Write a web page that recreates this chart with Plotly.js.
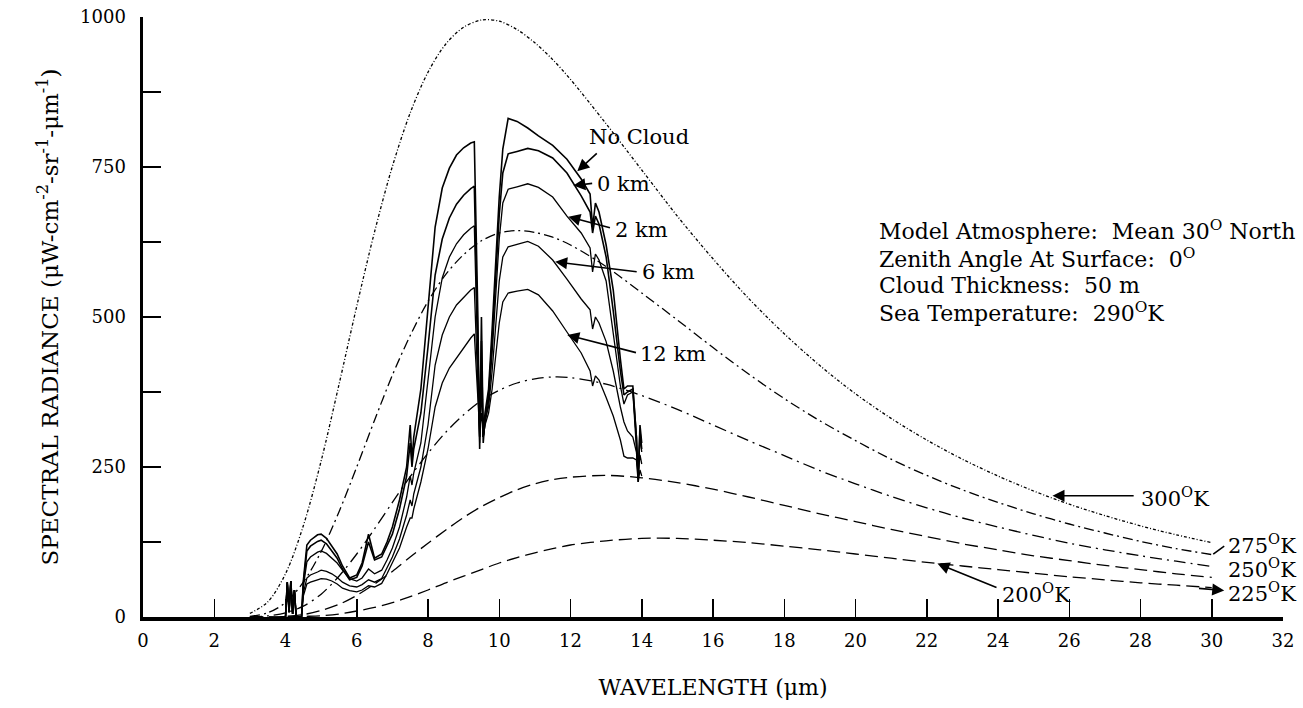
<!DOCTYPE html>
<html>
<head>
<meta charset="utf-8">
<script src="https://cdn.plot.ly/plotly-3.0.1.min.js"></script>
<style>html,body{margin:0;padding:0;background:#fff;}#chart{width:1303px;height:708px;}</style>
</head>
<body>
<div id="chart"></div>
<script>
// Blackbody reference curves (wavelength in µm)
const bx = [3, 3.5, 4, 4.5, 5, 5.5, 6, 6.5, 7, 7.5, 8, 8.5, 9, 9.5, 10, 10.5, 11, 11.5, 12, 13, 14, 15, 16, 17, 18, 19, 20, 21, 22, 23, 24, 25, 26, 27, 28, 29, 30];
const bb300 = [6, 25, 72, 152, 260, 387, 518, 642, 751, 840, 908, 955, 983, 995, 993, 979, 957, 929, 896, 822, 745, 668, 597, 531, 472, 419, 372, 331, 295, 263, 235, 210, 188, 169, 152, 137, 124];
const bb275 = [1, 7, 24, 58, 109, 175, 250, 328, 403, 469, 526, 571, 604, 627, 640, 644, 641, 633, 620, 584, 540, 495, 449, 405, 364, 327, 294, 263, 236, 212, 191, 172, 155, 140, 126, 114, 104];
const bb250 = [0, 2, 7, 18, 38, 68, 105, 147, 191, 234, 273, 308, 337, 361, 378, 390, 397, 400, 399, 388, 369, 346, 320, 294, 269, 244, 222, 201, 182, 165, 150, 136, 123, 112, 102, 93, 84];
const bb225 = [0, 0, 1, 4, 11, 21, 36, 55, 76, 100, 123, 145, 166, 184, 199, 212, 222, 229, 233, 236, 232, 224, 213, 200, 186, 172, 159, 146, 134, 122, 112, 102, 94, 86, 79, 72, 66];
const bb200 = [0, 0, 0, 1, 2, 5, 10, 16, 24, 34, 45, 57, 68, 79, 90, 99, 107, 114, 120, 127, 131, 131, 128, 124, 118, 112, 105, 98, 91, 85, 79, 73, 67, 62, 57, 53, 49];

// Computed radiance curves (wavelength in µm)
const mx = [3.9, 4.0, 4.05, 4.1, 4.15, 4.2, 4.25, 4.3, 4.45,
  4.5, 4.6, 4.7, 4.9, 5.0, 5.15, 5.3, 5.45, 5.6, 5.8,
  6.0, 6.15, 6.33, 6.5, 6.7, 6.85, 7.0, 7.2, 7.4, 7.5,
  7.55, 7.6, 7.8, 8.0, 8.2, 8.4, 8.6, 8.8, 9.0, 9.2,
  9.3, 9.4, 9.45, 9.5, 9.55, 9.6, 9.7, 9.8, 10.0, 10.1,
  10.25, 10.5, 10.8, 11.1, 11.5, 11.9, 12.3, 12.55, 12.62, 12.7,
  12.8, 13.0, 13.2, 13.4, 13.5, 13.6, 13.75, 13.85, 13.9, 13.95,
  14.0];
const noCloud = [0, 0, 58, 8, 60, 5, 45, 0, 0,
  60, 120, 128, 137, 138, 131, 118, 105, 85, 65,
  70, 90, 138, 98, 105, 125, 150, 195, 250, 320,
  260, 300, 380, 520, 650, 715, 748, 770, 782, 790,
  792, 500, 280, 500, 300, 340, 380, 480, 700, 780,
  831, 826, 815, 802, 786, 763, 730, 705, 650, 690,
  675, 620, 545, 430, 380, 385, 385, 300, 225, 320,
  290];
const km0 = [0, 0, 58, 8, 60, 5, 45, 0, 0,
  55, 110, 118, 126, 128, 122, 110, 98, 80, 62,
  66, 85, 125, 95, 100, 118, 138, 180, 235, 290,
  250, 280, 340, 450, 570, 630, 665, 688, 703, 714,
  718, 450, 300, 460, 290, 330, 370, 460, 670, 740,
  772, 776, 781, 777, 765, 740, 702, 675, 640, 668,
  655, 600, 510, 410, 370, 375, 380, 300, 230, 310,
  280];
const km2 = [0, 0, 58, 8, 60, 5, 45, 0, 0,
  50, 92, 100, 108, 110, 106, 98, 90, 78, 64,
  60, 65, 80, 72, 78, 95, 115, 150, 200, 235,
  220, 240, 290, 400, 500, 565, 600, 622, 637, 648,
  652, 420, 290, 420, 300, 320, 360, 440, 630, 690,
  713, 717, 722, 716, 700, 668, 640, 615, 575, 605,
  595, 560, 475, 385, 355, 370, 375, 290, 235, 300,
  275];
const km6 = [0, 0, 58, 8, 60, 5, 45, 0, 0,
  40, 65, 70, 75, 78, 76, 72, 66, 58, 52,
  50, 54, 62, 58, 64, 82, 100, 130, 170, 195,
  185, 205, 250, 320, 420, 470, 500, 520, 533, 545,
  549, 380, 300, 380, 300, 330, 350, 410, 560, 600,
  617, 621, 626, 618, 595, 563, 530, 512, 480, 500,
  490, 459, 410, 350, 325, 310, 300, 275, 240, 270,
  255];
const km12 = [0, 0, 58, 8, 60, 5, 45, 0, 0,
  35, 55, 58, 62, 64, 63, 60, 55, 48, 44,
  42, 45, 52, 50, 56, 72, 90, 115, 150, 165,
  165, 180, 225, 280, 350, 390, 415, 432, 448, 465,
  472, 350, 310, 340, 300, 320, 340, 380, 490, 525,
  540, 543, 546, 537, 510, 475, 440, 410, 385, 402,
  395, 366, 335, 295, 268, 265, 265, 262, 225, 245,
  235];

// Axis ticks
const xTickVals = [0, 2, 4, 6, 8, 10, 12, 14, 16, 18, 20, 22, 24, 26, 28, 30, 32];
const yTickVals = [0, 125, 250, 375, 500, 625, 750, 875, 1000];
const yTickText = ['0', '', '250', '', '500', '', '750', '', '1000'];

const FONT = 'DejaVu Serif, Liberation Serif, serif';
const BLACK = '#000';

function bbTrace(y, dash, name) {
  return {x: bx, y: y, mode: 'lines', name: name, hoverinfo: 'skip',
    line: {color: BLACK, width: 1.3, dash: dash, shape: 'spline', smoothing: 0.9}};
}
function mTrace(y, w, name) {
  return {x: mx, y: y, mode: 'lines', name: name, hoverinfo: 'skip',
    line: {color: BLACK, width: w, shape: 'linear'}};
}

const data = [
  bbTrace(bb300, '3px,2px,1px,2px', '300 K'),
  bbTrace(bb275, '10px,4px,2px,4px', '275 K'),
  bbTrace(bb250, '12px,5px,2px,5px', '250 K'),
  bbTrace(bb225, '13px,6px', '225 K'),
  bbTrace(bb200, '13px,6px', '200 K'),
  mTrace(noCloud, 1.6, 'No Cloud'),
  mTrace(km0, 1.6, '0 km'),
  mTrace(km2, 1.3, '2 km'),
  mTrace(km6, 1.3, '6 km'),
  mTrace(km12, 1.3, '12 km')
];

function label(x, y, text, size) {
  return {x: x, y: y, xref: 'x', yref: 'y', text: text, showarrow: false,
    xanchor: 'left', yanchor: 'middle', font: {family: FONT, size: size || 21, color: BLACK}};
}
function arrow(tx, ty, hx, hy, head) {
  return {x: hx, y: hy, ax: tx, ay: ty, xref: 'x', yref: 'y', axref: 'x', ayref: 'y',
    text: '', showarrow: true, arrowhead: head === undefined ? 2 : head, arrowsize: 1.5,
    arrowwidth: 1.6, arrowcolor: BLACK, standoff: 0, startstandoff: 0};
}

const annotations = [
  label(12.45, 800, 'No Cloud'),
  label(12.7, 722, '0 km'),
  label(13.2, 645, '2 km'),
  label(13.96, 575, '6 km'),
  label(13.9, 438, '12 km'),
  arrow(12.78, 775, 12.19, 743),
  arrow(12.65, 723, 12.08, 719),
  arrow(13.15, 648, 11.94, 667),
  arrow(13.9, 575, 11.57, 592),
  arrow(13.88, 440, 11.91, 470),
  label(20.6, 645, 'Model Atmosphere:  Mean 30<sup>O</sup> North', 22),
  label(20.6, 598, 'Zenith Angle At Surface:  0<sup>O</sup>', 22),
  label(20.6, 553, 'Cloud Thickness:  50 m', 22),
  label(20.6, 508, 'Sea Temperature:  290<sup>O</sup>K', 22),
  label(27.95, 200, '300<sup>O</sup>K'),
  arrow(27.85, 202, 25.53, 202),
  label(30.4, 122, '275<sup>O</sup>K'),
  arrow(30.0, 103, 30.35, 118, 0),
  label(30.4, 82, '250<sup>O</sup>K'),
  label(30.4, 42, '225<sup>O</sup>K'),
  arrow(29.6, 48, 30.35, 44),
  label(24.05, 40, '200<sup>O</sup>K'),
  arrow(24.0, 48, 22.3, 89)
];

const layout = {
  width: 1303, height: 708,
  margin: {l: 143, r: 20, t: 17, b: 91},
  paper_bgcolor: '#fff', plot_bgcolor: '#fff',
  showlegend: false,
  font: {family: FONT, color: BLACK, size: 18},
  xaxis: {
    range: [0, 32], tickvals: xTickVals, ticktext: xTickVals.map(String),
    ticks: 'inside', ticklen: 18, tickwidth: 1.5, tickcolor: BLACK,
    showline: true, linewidth: 3.5, linecolor: BLACK, showgrid: false, zeroline: false,
    tickfont: {family: FONT, size: 18, color: BLACK}, ticklabelstandoff: 5,
    title: {text: 'WAVELENGTH (μm)', font: {family: FONT, size: 22, color: BLACK}, standoff: 30}
  },
  yaxis: {
    range: [0, 1000], tickvals: yTickVals, ticktext: yTickText,
    ticks: 'inside', ticklen: 18, tickwidth: 1.5, tickcolor: BLACK,
    showline: true, linewidth: 3.5, linecolor: BLACK, showgrid: false, zeroline: false,
    tickfont: {family: FONT, size: 18, color: BLACK}, ticklabelstandoff: 10,
    title: {text: 'SPECTRAL RADIANCE (μW-cm<sup>-2</sup>-sr<sup>-1</sup>-μm<sup>-1</sup>)', font: {family: FONT, size: 23, color: BLACK}, standoff: 16}
  },
  annotations: annotations
};

Plotly.newPlot('chart', data, layout, {displayModeBar: false, staticPlot: true});
</script>
</body>
</html>
